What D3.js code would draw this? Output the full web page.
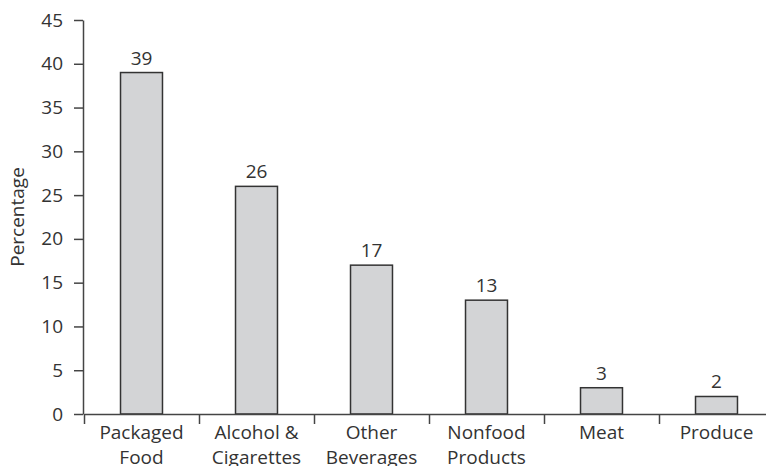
<!DOCTYPE html>
<html>
<head>
<meta charset="utf-8">
<script src="https://cdn.jsdelivr.net/npm/d3@7"></script>
<style>
  html, body { margin: 0; padding: 0; background: #fff; }
  svg { display: block; }
  text { font-family: "Open Sans", "Noto Sans", sans-serif; fill: #333; }
</style>
</head>
<body>
<svg id="chart" width="766" height="466"></svg>
<script>
// Share of purchases by product category
const categories = [
  ["Packaged", "Food"],
  ["Alcohol &", "Cigarettes"],
  ["Other", "Beverages"],
  ["Nonfood", "Products"],
  ["Meat"],
  ["Produce"]
];
const values = [39, 26, 17, 13, 3, 2];
const yTicks = [0, 5, 10, 15, 20, 25, 30, 35, 40, 45];
const yLabel = "Percentage";

const svg = d3.select("#chart");
const plotLeft = 84, plotRight = 774, plotTop = 20, plotBottom = 414;
const fontSize = 19;

const keys = categories.map(c => c.join(" "));

// bars sit centred in equal-width slots
const x = d3.scaleBand()
  .domain(keys)
  .range([plotLeft, plotRight])
  .paddingInner(0.635)
  .paddingOuter(0.3175);

// slot boundaries for the bottom tick marks
const xEdge = d3.scaleLinear().domain([0, keys.length]).range([plotLeft, plotRight]);

const y = d3.scaleLinear().domain([0, 45]).range([plotBottom, plotTop]);

// bars
svg.append("g").selectAll("rect")
  .data(values)
  .join("rect")
  .attr("x", (d, i) => x(keys[i]))
  .attr("y", d => y(d))
  .attr("width", x.bandwidth())
  .attr("height", d => y(0) - y(d))
  .attr("fill", "#d3d4d6")
  .attr("stroke", "#333")
  .attr("stroke-width", 1.5);

// value labels
svg.append("g").selectAll("text")
  .data(values)
  .join("text")
  .attr("x", (d, i) => x(keys[i]) + x.bandwidth() / 2)
  .attr("y", d => y(d) - 8)
  .attr("text-anchor", "middle")
  .style("font-size", fontSize + "px")
  .text(d => d);

// y axis
const yAxis = svg.append("g")
  .attr("transform", `translate(${plotLeft - 1},0)`)
  .call(d3.axisLeft(y).tickValues(yTicks).tickSize(9).tickSizeOuter(0).tickPadding(11));

// x axis: tick marks at slot edges
const xAxis = svg.append("g")
  .attr("transform", `translate(0,${plotBottom})`)
  .call(d3.axisBottom(xEdge).tickValues(d3.range(keys.length + 1)).tickSize(10).tickSizeOuter(0).tickFormat(""));

[yAxis, xAxis].forEach(g => {
  g.selectAll("path, line").attr("stroke", "#444").attr("stroke-width", 1.5);
  g.selectAll("text").style("font-size", fontSize + "px").attr("fill", "#333")
    .style("font-family", '"Open Sans", "Noto Sans", sans-serif');
});

// category labels (two lines where needed)
const catLabels = svg.append("g").selectAll("text")
  .data(categories)
  .join("text")
  .attr("text-anchor", "middle")
  .attr("x", (d, i) => x(keys[i]) + x.bandwidth() / 2)
  .attr("y", 439)
  .style("font-size", fontSize + "px");
catLabels.selectAll("tspan")
  .data(d => d)
  .join("tspan")
  .attr("x", function() { return this.parentNode.getAttribute("x"); })
  .attr("dy", (d, i) => i === 0 ? 0 : 24.5)
  .text(d => d);

// y axis title
svg.append("text")
  .attr("transform", `translate(24,${(plotTop + plotBottom) / 2}) rotate(-90)`)
  .attr("text-anchor", "middle")
  .style("font-size", fontSize + "px")
  .text(yLabel);
</script>
</body>
</html>
